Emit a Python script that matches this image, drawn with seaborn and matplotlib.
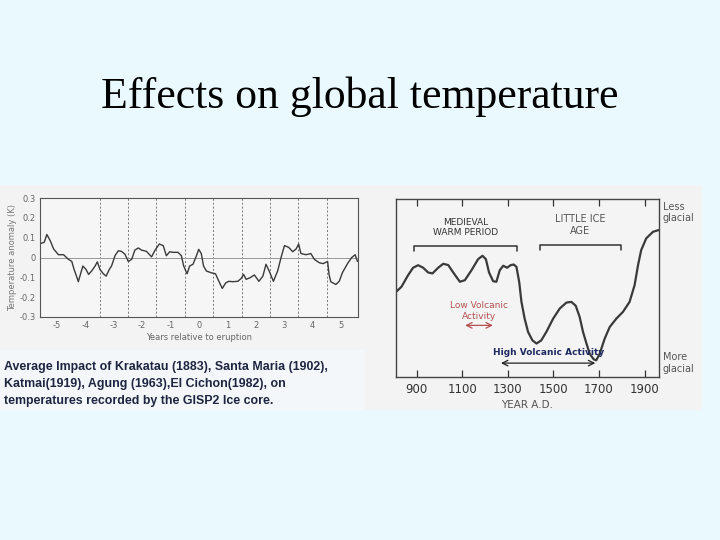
import matplotlib
matplotlib.use("Agg")
import matplotlib.pyplot as plt
import seaborn as sns
import pandas as pd

# ---- data: left panel (GISP2 average response) ----
years_rel = [-5.58, -5.45, -5.36, -5.24, -5.12, -4.95, -4.77, -4.60, -4.48, -4.40, -4.30, -4.25,
             -4.16, -4.09, -3.98, -3.89, -3.78, -3.66, -3.58, -3.49, -3.37, -3.27, -3.16, -3.08,
             -2.96, -2.84, -2.73, -2.61, -2.49, -2.37, -2.26, -2.14, -2.02, -1.85, -1.67, -1.56,
             -1.40, -1.26, -1.15, -1.03, -0.91, -0.74, -0.62, -0.54, -0.42, -0.33, -0.21, -0.09,
             -0.01, 0.08, 0.16, 0.26, 0.43, 0.58, 0.70, 0.82, 0.94, 1.05, 1.19, 1.37, 1.49, 1.57,
             1.66, 1.80, 1.95, 2.11, 2.25, 2.36, 2.48, 2.62, 2.77, 2.89, 3.01, 3.16, 3.30, 3.42,
             3.51, 3.59, 3.77, 3.94, 4.06, 4.23, 4.37, 4.53, 4.58, 4.64, 4.82, 4.94, 5.05, 5.23,
             5.38, 5.50, 5.58]
anomaly = [0.07, 0.077, 0.116, 0.085, 0.043, 0.014, 0.014, -0.009, -0.02, -0.06, -0.10, -0.122,
           -0.077, -0.043, -0.06, -0.085, -0.068, -0.043, -0.022, -0.06, -0.082, -0.094, -0.06, -0.043,
           0.009, 0.034, 0.031, 0.017, -0.02, -0.009, 0.037, 0.048, 0.037, 0.031, 0.003, 0.034,
           0.068, 0.06, 0.009, 0.029, 0.026, 0.026, 0.009, -0.043, -0.082, -0.043, -0.034, 0.009,
           0.041, 0.02, -0.043, -0.068, -0.077, -0.082, -0.12, -0.156, -0.128, -0.12, -0.122, -0.12, -0.105, -0.085,
           -0.11, -0.102, -0.088, -0.12, -0.094, -0.034, -0.071, -0.12, -0.068, 0.0, 0.06, 0.051, 0.029, 0.043,
           0.068, 0.02, 0.014, 0.02, -0.009, -0.026, -0.031, -0.02, -0.085, -0.122, -0.136, -0.12, -0.077, -0.031,
           0.0, 0.014, -0.02]
left_xticks = [-5, -4, -3, -2, -1, 0, 1, 2, 3, 4, 5]
left_yticks = [-0.3, -0.2, -0.1, 0, 0.1, 0.2, 0.3]
left_ytick_labels = ["-0.3", "-0.2", "-0.1", "0", "0.1", "0.2", "0.3"]
half_years = [-3.5, -2.5, -1.5, -0.5, 0.5, 1.5, 2.5, 3.5, 4.5]

# ---- data: right panel (last millennium) ----
year_ad = [810, 834, 863, 885, 907, 929, 951, 970, 995, 1017, 1039, 1061, 1090, 1112, 1141, 1170,
           1189, 1204, 1218, 1236, 1250, 1265, 1280, 1297, 1312, 1326, 1338, 1350, 1360, 1374, 1389,
           1408, 1426, 1447, 1469, 1499, 1528, 1557, 1579, 1598, 1615, 1630, 1645, 1659, 1677, 1688,
           1703, 1725, 1747, 1776, 1805, 1834, 1856, 1871, 1885, 1907, 1937, 1963]
glacial_index = [0.478, 0.507, 0.572, 0.614, 0.628, 0.614, 0.587, 0.582, 0.614, 0.636, 0.629, 0.587,
                 0.535, 0.544, 0.600, 0.662, 0.681, 0.662, 0.587, 0.538, 0.535, 0.600, 0.625, 0.614,
                 0.628, 0.632, 0.619, 0.535, 0.422, 0.328, 0.253, 0.206, 0.188, 0.206, 0.253, 0.328,
                 0.385, 0.418, 0.422, 0.400, 0.338, 0.253, 0.188, 0.131, 0.099, 0.094, 0.131, 0.216,
                 0.281, 0.328, 0.366, 0.422, 0.516, 0.628, 0.713, 0.779, 0.816, 0.826]
right_xticks = [900, 1100, 1300, 1500, 1700, 1900]
medieval_span = [888, 1342]
little_ice_span = [1443, 1798]
low_volc_span = [1101, 1247]
high_volc_span = [1258, 1696]

title = "Effects on global temperature"
caption = ("Average Impact of Krakatau (1883), Santa Maria (1902),\n"
           "Katmai(1919), Agung (1963),El Cichon(1982), on\n"
           "temperatures recorded by the GISP2 Ice core.")

sns.set_style("white")
plt.rcParams['font.family'] = ['DejaVu Sans']

W, H = 720, 540
fig = plt.figure(figsize=(7.2, 5.4), dpi=100)
fig.patch.set_facecolor("#EAF9FE")

def box(x0, y0, x1, y1):
    return [x0 / W, 1 - y1 / H, (x1 - x0) / W, (y1 - y0) / H]

# scanned image background
bg = fig.add_axes(box(0, 185, 702, 410))
bg.set_facecolor("#F3F3F3")
bg.set_xticks([]); bg.set_yticks([])
for s in bg.spines.values():
    s.set_visible(False)
bg.add_patch(plt.Rectangle((0, 0), 365 / 702, 60 / 225, transform=bg.transAxes,
                           facecolor="#F4F7F9", edgecolor="none"))

fig.text(0.5, 1 - 97 / H, title, ha="center", va="center",
         fontsize=31.5, family="Liberation Serif", color="black")

# ---- left chart ----
axL = fig.add_axes(box(40, 198, 358, 317))
axL.set_facecolor("#F6F6F6")
dfL = pd.DataFrame({"x": years_rel, "y": anomaly})
for hx in half_years:
    axL.axvline(hx, color="#777777", lw=0.7, ls=(0, (2, 2)))
axL.axhline(0, color="#999999", lw=0.7)
sns.lineplot(data=dfL, x="x", y="y", ax=axL, color="#3a3a3a", lw=1.0)
axL.set_xlim(-5.6, 5.6)
axL.set_ylim(-0.3, 0.3)
axL.set_xticks(left_xticks)
axL.set_xticklabels([str(t) for t in left_xticks])
axL.set_yticks(left_yticks)
axL.set_yticklabels(left_ytick_labels)
axL.tick_params(labelsize=6, colors="#666666", length=2, direction="in", pad=3)
axL.set_xlabel("Years relative to eruption", fontsize=6, color="#666666", labelpad=2)
axL.set_ylabel("Temperature anomaly (K)", fontsize=6, color="#777777", labelpad=2)
for s in axL.spines.values():
    s.set_color("#555555"); s.set_linewidth(0.8)
axL.spines["top"].set_linestyle((0, (3, 1)))

fig.text(4 / W, 1 - 361 / H, caption, ha="left", va="top", fontsize=8.9,
         family="Liberation Sans", fontweight="bold", color="#1E2540", linespacing=1.55)

# ---- right chart ----
axR = fig.add_axes(box(396, 199, 659, 377))
axR.set_facecolor("#F4F4F4")
dfR = pd.DataFrame({"year": year_ad, "v": glacial_index})
sns.lineplot(data=dfR, x="year", y="v", ax=axR, color="#3a3a3a", lw=1.6)
axR.set_xlim(810, 1963)
axR.set_ylim(0, 1)
axR.set_xticks(right_xticks)
axR.set_yticks([])
axR.set_ylabel("")
axR.tick_params(axis="x", direction="in", top=True, bottom=True, length=5, width=0.9,
                labelsize=8.5, colors="#333333", pad=4)
for s in axR.spines.values():
    s.set_color("#444444"); s.set_linewidth(1.0)
axR.set_xlabel("YEAR A.D.", fontsize=7.5, color="#555555", labelpad=3)

def bracket(ax, x0, x1, y, drop):
    ax.plot([x0, x0, x1, x1], [y - drop, y, y, y - drop], color="#333333", lw=1.1)

bracket(axR, medieval_span[0], medieval_span[1], 0.738, 0.03)
bracket(axR, little_ice_span[0], little_ice_span[1], 0.743, 0.03)
axR.text(1116, 0.84, "MEDIEVAL\nWARM PERIOD", ha="center", va="center", fontsize=6.5,
         color="#333333", linespacing=1.2)
axR.text(1618, 0.855, "LITTLE ICE\nAGE", ha="center", va="center", fontsize=7,
         color="#555555", linespacing=1.3)
axR.text(1174, 0.37, "Low Volcanic\nActivity", ha="center", va="center", fontsize=6.5,
         color="#B55050", linespacing=1.2)
axR.annotate("", xy=(low_volc_span[0], 0.29), xytext=(low_volc_span[1], 0.29),
             arrowprops=dict(arrowstyle="<->", color="#B55050", lw=0.9))
axR.text(1481, 0.135, "High Volcanic Activity", ha="center", va="center", fontsize=6.5,
         color="#1E2A60", fontweight="bold")
axR.annotate("", xy=(high_volc_span[0], 0.078), xytext=(high_volc_span[1], 0.078),
             arrowprops=dict(arrowstyle="<->", color="#222222", lw=0.9))
axR.text(1.015, 0.985, "Less\nglacial", transform=axR.transAxes, ha="left", va="top",
         fontsize=7, color="#555555", linespacing=1.2)
axR.text(1.015, 0.14, "More\nglacial", transform=axR.transAxes, ha="left", va="top",
         fontsize=7, color="#555555", linespacing=1.2)

fig.savefig("out.png", dpi=100, facecolor=fig.get_facecolor())
